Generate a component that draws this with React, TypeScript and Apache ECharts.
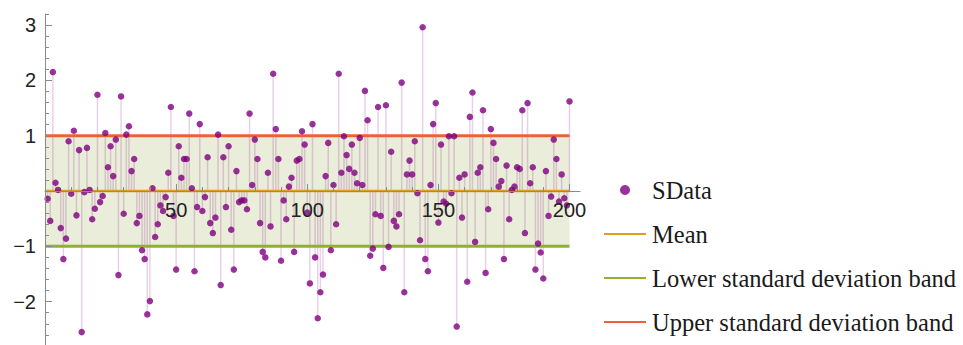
import React, { useEffect, useRef } from "react";
import * as echarts from "echarts";

// Data values (index 1..200)
const sData: number[] = [
  -0.14, -0.54, 2.15, 0.15, 0.02, -0.67, -1.23, -0.86, 0.9, -0.05,
  1.09, -0.44, 0.74, -2.55, -0.02, 0.78, 0.02, -0.51, -0.32, 1.74,
  -0.2, -0.09, 1.05, 0.43, 0.81, 0.27, 0.93, -1.52, 1.71, -0.41,
  1.02, 1.17, 0.36, 0.58, -0.58, -0.45, -1.07, -1.23, -2.23, -1.99,
  0.05, -0.83, -0.6, -0.26, -0.36, -0.11, 0.33, 1.52, -0.45, -1.42,
  0.81, 0.24, 0.58, 0.58, 1.4, 0.05, -1.45, -0.29, 1.21, -0.36,
  -0.11, 0.61, -0.58, -0.76, -0.48, 1.02, -1.7, 0.61, -0.29, 0.81,
  -0.7, -1.42, 0.36, -0.2, -0.17, -0.17, -0.33, 1.4, 0.11, 0.93,
  0.58, -0.58, -1.1, -1.2, 0.33, -0.64, 2.12, 1.12, 0.58, -1.26,
  -0.17, -0.51, 0.08, 0.24, -1.1, 0.55, 0.58, 1.08, 0.84, -0.39,
  -1.67, 1.21, -1.2, -2.3, -1.83, -1.51, 0.27, 0.87, -1.07, 0.11,
  -0.6, 2.12, 0.33, 0.99, 0.65, 0.4, 0.84, 0.33, 0.14, 0.96,
  0.11, 1.81, 1.28, -1.17, -1.04, -0.42, 1.52, -0.45, -1.39, 1.55,
  -1.01, 0.71, -0.54, -0.64, -0.42, 1.96, -1.83, 0.3, 0.55, 0.3,
  0.9, -0.04, -0.89, 2.96, -1.23, -1.45, 0.11, 1.21, 1.59, -0.57,
  0.84, -0.19, -0.23, 0.99, -0.04, 0.99, -2.45, 0.24, -0.48, 0.3,
  -1.64, 1.34, 1.78, -0.92, 0.33, 0.43, 1.46, -1.48, -0.33, 1.12,
  0.87, 0.58, 0.08, 0.18, -1.23, 0.46, -0.51, 0.02, 0.08, 0.43,
  0.4, 1.46, -0.76, 1.59, 0.14, 0.43, -1.42, -0.95, -1.11, -1.58,
  0.36, -0.45, -0.1, 0.93, 0.58, -0.19, 0.3, -0.13, -0.26, 1.62,
];

const meanValue = 0;
const lowerBand = -1;
const upperBand = 1;
const lineStart = 0;
const lineEnd = 200;

const xTickLabels = [50, 100, 150, 200];
const yTickLabels = [-2, -1, 1, 2, 3];

const seriesNames = [
  "SData",
  "Mean",
  "Lower standard deviation band",
  "Upper standard deviation band",
];

export default function App() {
  const ref = useRef<HTMLDivElement>(null);

  useEffect(() => {
    if (!ref.current) return;
    const chart = echarts.init(ref.current, null, { renderer: "svg" });

    const points = sData.map((v, i) => [i + 1, v]);
    const xMinor: number[] = [];
    for (let v = 10; v <= 200; v += 10) if (v % 50 !== 0) xMinor.push(v);
    const yMinor: number[] = [];
    for (let k = -14; k <= 16; k++) if (k % 5 !== 0) yMinor.push(+(k * 0.2).toFixed(1));

    const yMin = -3;
    const yMax = 3.2;
    const gridTop = 14;
    const gridHeight = 343;
    // place the x axis at y = 0 (Mathematica-style axes crossing)
    const xAxisOffset = -(gridHeight * (0 - yMin)) / (yMax - yMin);

    const axisColor = "#8a8a8a";
    const labelFont = {
      fontFamily: "Liberation Sans",
      fontSize: 20,
      color: "#222",
    };

    const xBase = {
      type: "value" as const,
      min: 0,
      max: 204,
      interval: 10,
      position: "bottom" as const,
      offset: xAxisOffset,
      z: 10,
      splitLine: { show: false },
    };
    const yBase = {
      type: "value" as const,
      min: yMin,
      max: yMax,
      interval: 0.2,
      position: "left" as const,
      z: 10,
      splitLine: { show: false },
    };

    const lineItem = (name: string) => ({ name, itemStyle: { opacity: 0 } });

    chart.setOption({
      animation: false,
      grid: {
        left: 45,
        top: gridTop,
        width: 535,
        height: gridHeight,
        containLabel: false,
        outerBoundsMode: "none",
      },
      legend: {
        orient: "vertical",
        left: 598,
        top: 172,
        height: 220,
        itemWidth: 42,
        itemHeight: 10,
        itemGap: 18,
        selectedMode: false,
        data: [
          { name: seriesNames[0] },
          lineItem(seriesNames[1]),
          lineItem(seriesNames[2]),
          lineItem(seriesNames[3]),
        ],
        textStyle: {
          fontFamily: "Liberation Serif",
          fontSize: 24.5,
          lineHeight: 26,
          color: "#1a1a1a",
          padding: [0, 0, 0, 1],
        },
      },
      xAxis: [
        {
          ...xBase,
          axisLine: {
            onZero: false,
            lineStyle: { color: axisColor, width: 1 },
          },
          axisTick: {
            inside: true,
            length: 7,
            customValues: xTickLabels,
            lineStyle: { color: axisColor },
          },
          axisLabel: {
            customValues: xTickLabels,
            margin: 9,
            ...labelFont,
          },
        },
        {
          ...xBase,
          axisLine: { show: false, onZero: false },
          axisTick: {
            inside: true,
            length: 4,
            customValues: xMinor,
            lineStyle: { color: axisColor },
          },
          axisLabel: { show: false },
        },
      ],
      yAxis: [
        {
          ...yBase,
          axisLine: { show: true, onZero: false, lineStyle: { color: axisColor, width: 1 } },
          axisTick: {
            inside: true,
            length: 7,
            customValues: yTickLabels,
            lineStyle: { color: axisColor },
          },
          axisLabel: {
            customValues: yTickLabels,
            margin: 9,
            formatter: (v: number) => (v < 0 ? "\u2212" + Math.abs(v) : String(v)),
            ...labelFont,
          },
        },
        {
          ...yBase,
          axisLine: { show: false, onZero: false },
          axisTick: {
            inside: true,
            length: 4,
            customValues: yMinor,
            lineStyle: { color: axisColor },
          },
          axisLabel: { show: false },
        },
      ],
      series: [
        {
          name: "stems",
          type: "bar",
          xAxisIndex: 0,
          yAxisIndex: 0,
          data: points,
          barWidth: 1.5,
          silent: true,
          itemStyle: { color: "rgba(128,0,128,0.18)" },
          z: 2,
          markArea: {
            silent: true,
            z: 1,
            itemStyle: { color: "#E9EDD9" },
            data: [
              [
                { xAxis: lineStart, yAxis: lowerBand },
                { xAxis: lineEnd, yAxis: upperBand },
              ],
            ],
          },
        },
        {
          name: "Mean",
          type: "line",
          symbol: "none",
          data: [
            [lineStart, meanValue],
            [lineEnd, meanValue],
          ],
          lineStyle: { color: "#E19C24", width: 2.5 },
          itemStyle: { color: "#E19C24" },
          z: 3,
        },
        {
          name: "Lower standard deviation band",
          type: "line",
          symbol: "none",
          data: [
            [lineStart, lowerBand],
            [lineEnd, lowerBand],
          ],
          lineStyle: { color: "#8FB032", width: 3 },
          itemStyle: { color: "#8FB032" },
          z: 3,
        },
        {
          name: "Upper standard deviation band",
          type: "line",
          symbol: "none",
          data: [
            [lineStart, upperBand],
            [lineEnd, upperBand],
          ],
          lineStyle: { color: "#EB6235", width: 3 },
          itemStyle: { color: "#EB6235" },
          z: 3,
        },
        {
          name: "SData",
          type: "scatter",
          symbol: "circle",
          symbolSize: 6.5,
          data: points,
          itemStyle: { color: "#800080" },
          z: 4,
        },
      ],
    });

    return () => chart.dispose();
  }, []);

  return (
    <div
      ref={ref}
      style={{ position: "absolute", left: 0, top: 0, width: 963, height: 345 }}
    />
  );
}
